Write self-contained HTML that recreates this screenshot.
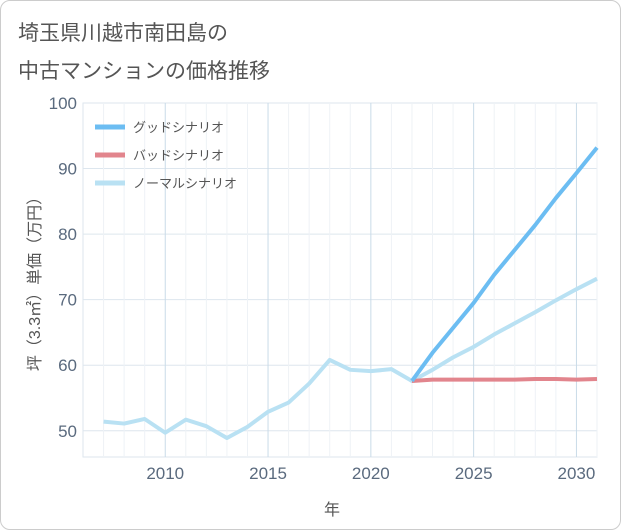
<!DOCTYPE html>
<html><head><meta charset="utf-8"><style>
body{margin:0;background:#fff;font-family:"Liberation Sans","Noto Sans CJK JP",sans-serif;}
#card{position:absolute;left:0;top:0;width:619px;height:528px;border:1px solid #ccc;border-radius:10px;background:#fff;}
</style></head><body>
<div id="card">
<svg id="svg" width="621" height="530" style="position:absolute;left:-1px;top:-1px">
<text x="18" y="40" font-size="21" fill="#555">埼玉県川越市南田島の</text>
<text x="18" y="78" font-size="21" fill="#555">中古マンションの価格推移</text>
<g id="grid"></g><g id="series"></g>
<text x="332" y="515" font-size="16" fill="#555" text-anchor="middle">年</text>
<text transform="translate(40,280) rotate(-90)" font-size="16" fill="#555" text-anchor="middle">坪（3.3㎡）単価（万円）</text>
<g>
<line x1="95" y1="127" x2="125" y2="127" stroke="#6cbdf2" stroke-width="5"/><text x="133" y="132" font-size="13" fill="#555">グッドシナリオ</text>
<line x1="95" y1="155" x2="125" y2="155" stroke="#e2858d" stroke-width="5"/><text x="133" y="160" font-size="13" fill="#555">バッドシナリオ</text>
<line x1="95" y1="183" x2="125" y2="183" stroke="#b9e1f3" stroke-width="5"/><text x="133" y="188" font-size="13" fill="#555">ノーマルシナリオ</text>
</g>
</svg></div>
<script>
const normalYears=[2007,2008,2009,2010,2011,2012,2013,2014,2015,2016,2017,2018,2019,2020,2021,2022,2023,2024,2025,2026,2027,2028,2029,2030,2031];
const normalVals=[51.4,51.1,51.8,49.7,51.7,50.7,48.9,50.6,52.9,54.3,57.2,60.8,59.3,59.1,59.4,57.6,59.3,61.2,62.8,64.7,66.4,68.1,69.9,71.6,73.2];
const scenYears=[2022,2023,2024,2025,2026,2027,2028,2029,2030,2031];
const goodVals=[57.6,61.9,65.7,69.5,73.8,77.6,81.4,85.5,89.3,93.2];
const badVals=[57.6,57.8,57.8,57.8,57.8,57.8,57.9,57.9,57.8,57.9];
const xTicks=[2010,2015,2020,2025,2030];
const yTicks=[50,60,70,80,90,100];
const L=83,R=597,T=103,B=457;
const x=v=>L+(v-2006)*(R-L)/25;
const y=v=>B-(v-46)*(B-T)/54;
const NS="http://www.w3.org/2000/svg";
const grid=document.getElementById('grid'),ser=document.getElementById('series');
function mk(tag,attrs,parent){const e=document.createElementNS(NS,tag);for(const k in attrs)e.setAttribute(k,attrs[k]);parent.appendChild(e);return e;}
const frame=mk('rect',{x:L,y:T,width:R-L,height:B-T,fill:'none',stroke:'#dde6ee'},grid);


yTicks.forEach(v=>{
 const l=mk('line',{x1:L,x2:R,y1:y(v),y2:y(v),stroke:'#dde6ee'},grid);
 
 
 const t=mk('text',{x:L-6,y:y(v)+6,'font-size':17,fill:'#5a6a7e','text-anchor':'end'},grid);t.textContent=v;
 
 
});
for(let yr=2007;yr<=2031;yr++){
 const major=xTicks.includes(yr);
 const l=mk('line',{x1:x(yr),x2:x(yr),y1:T,y2:B,stroke:major?'#c9dbe8':'#eef2f6'},grid);
 
 
}
xTicks.forEach(v=>{
 const t=mk('text',{x:x(v),y:B+22,'font-size':17,fill:'#5a6a7e','text-anchor':'middle'},grid);t.textContent=v;
 
 
});
function line(xs,vs,color,name){
 const p=mk('polyline',{points:xs.map((a,i)=>x(a)+','+y(vs[i])).join(' '),fill:'none',stroke:color,'stroke-width':4,'stroke-linejoin':'round'},ser);
 
 
}
line(normalYears,normalVals,'#b9e1f3','normal-scenario-line');
line(scenYears,badVals,'#e2858d','bad-scenario-line');
line(scenYears,goodVals,'#6cbdf2','good-scenario-line');
</script>
</body></html>
